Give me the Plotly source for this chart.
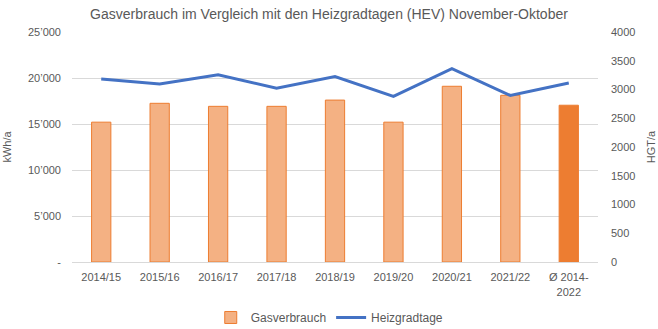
import plotly.graph_objects as go

categories = ["2014/15", "2015/16", "2016/17", "2017/18", "2018/19", "2019/20", "2020/21", "2021/22", "Ø 2014-<br>2022"]
gas = [15200, 17250, 16920, 16920, 17600, 15200, 19100, 18120, 17040]
hgt = [3181, 3094, 3256, 3024, 3224, 2879, 3361, 2896, 3114]
left_ticks = [0, 5000, 10000, 15000, 20000, 25000]
left_labels = ["-", "5’000", "10’000", "15’000", "20’000", "25’000"]
right_ticks = [0, 500, 1000, 1500, 2000, 2500, 3000, 3500, 4000]

bar_colors = ["#F4B183"] * 8 + ["#ED7D31"]
grey = "#595959"
font = "Liberation Sans, Arial, sans-serif"

fig = go.Figure()
fig.add_trace(go.Bar(x=categories, y=gas, name="Gasverbrauch",
                     marker=dict(color=bar_colors, line=dict(color="#ED7D31", width=1)),
                     width=0.33, yaxis="y"))
fig.add_trace(go.Scatter(x=categories, y=hgt, name="Heizgradtage", mode="lines",
                         line=dict(color="#4472C4", width=3), yaxis="y2"))

fig.update_layout(
    width=658, height=329,
    margin=dict(l=72, r=60, t=32, b=67, autoexpand=False),
    paper_bgcolor="white", plot_bgcolor="white",
    font=dict(family=font, size=11, color=grey),
    title=dict(text="Gasverbrauch im Vergleich mit den Heizgradtagen (HEV) November-Oktober",
               x=0.5, xanchor="center", y=0.957, yanchor="middle",
               font=dict(size=14, color=grey)),
    xaxis=dict(showgrid=False, showline=True, linecolor="#D9D9D9", ticks="",
               automargin=False, ticklabelstandoff=5,
               tickfont=dict(size=11, color=grey)),
    yaxis=dict(range=[0, 25000], tickvals=left_ticks, ticktext=left_labels,
               showgrid=True, gridcolor="#D9D9D9", zeroline=False, ticks="",
               automargin=False, ticklabelstandoff=10,
               title=dict(text="kWh/a", font=dict(size=11, color=grey), standoff=14),
               tickfont=dict(size=11, color=grey)),
    yaxis2=dict(range=[0, 4000], tickvals=right_ticks, overlaying="y", side="right",
                showgrid=False, zeroline=False, ticks="",
                automargin=False, ticklabelstandoff=12,
                title=dict(text="HGT/a", font=dict(size=11, color=grey), standoff=12),
                tickfont=dict(size=11, color=grey)),
    legend=dict(orientation="h", x=0.49, xanchor="center", yref="container",
                y=0.035, yanchor="middle",
                font=dict(size=12, color=grey)),
    showlegend=True,
)
fig.write_html("out.html")
